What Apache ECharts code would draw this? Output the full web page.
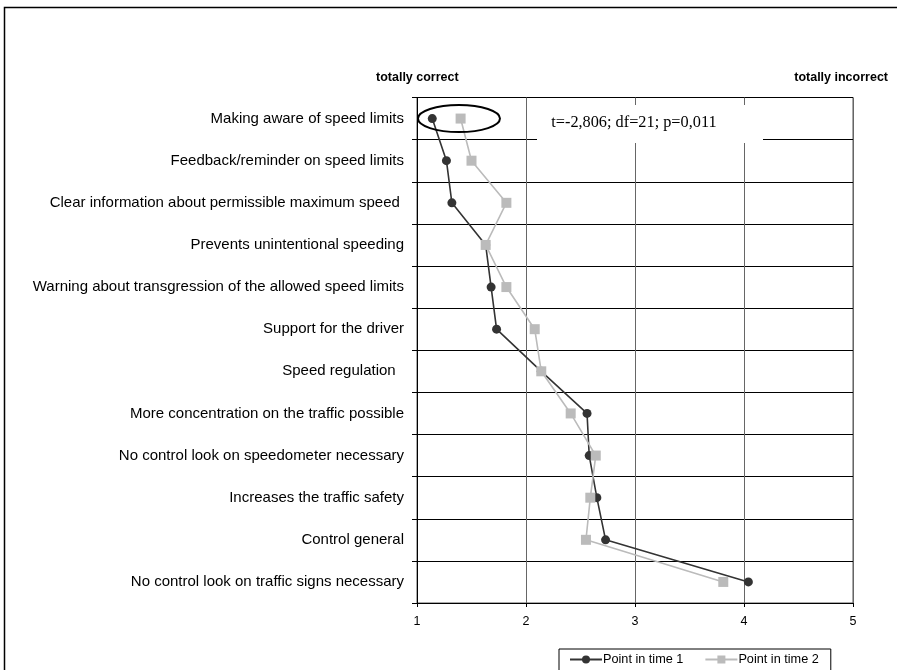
<!DOCTYPE html>
<html>
<head>
<meta charset="utf-8">
<script src="https://cdn.jsdelivr.net/npm/echarts@6/dist/echarts.min.js"></script>
<style>
html,body{margin:0;padding:0;background:#fff;}
#c{width:897px;height:670px;}
</style>
</head>
<body>
<div id="c"></div>
<script>
const categories = [
  "Making aware of speed limits",
  "Feedback/reminder on speed limits",
  "Clear information about permissible maximum speed ",
  "Prevents unintentional speeding",
  "Warning about transgression of the allowed speed limits",
  "Support for the driver",
  "Speed regulation  ",
  "More concentration on the traffic possible",
  "No control look on speedometer necessary",
  "Increases the traffic safety",
  "Control general",
  "No control look on traffic signs necessary"
];
const seriesNames = ["Point in time 1", "Point in time 2"];
const time1 = [1.14, 1.27, 1.32, 1.63, 1.68, 1.73, 2.14, 2.56, 2.58, 2.65, 2.73, 4.04];
const time2 = [1.40, 1.50, 1.82, 1.63, 1.82, 2.08, 2.14, 2.41, 2.64, 2.59, 2.55, 3.81];
const xTicks = [1, 2, 3, 4, 5];
const statText = "t=-2,806; df=21; p=0,011";
const leftAnnot = "totally correct";
const rightAnnot = "totally incorrect";

const FONT = "Liberation Sans, Arial, sans-serif";
const chart = echarts.init(document.getElementById('c'), null, {renderer: 'canvas'});

const baseGraphic = [
  {type: 'rect', left: 2, top: 5, shape: {width: 1000, height: 1000}, style: {fill: 'none', stroke: '#000', lineWidth: 1.5}, z: 0, silent: true},
  {type: 'text', left: 376, top: 71, style: {text: leftAnnot, font: 'bold 12.5px ' + FONT, fill: '#000'}},
  {type: 'text', right: 9, top: 71, style: {text: rightAnnot, font: 'bold 12.5px ' + FONT, fill: '#000'}}
];

const option = {
  backgroundColor: '#fff',
  animation: false,
  grid: {
    left: 417, right: 44, top: 97.5, bottom: 67,
    show: true, borderColor: '#555', borderWidth: 1, backgroundColor: 'transparent'
  },
  xAxis: {
    type: 'value',
    min: xTicks[0], max: xTicks[xTicks.length - 1], interval: 1,
    axisLine: {show: true, onZero: false, lineStyle: {color: '#000', width: 1}},
    axisTick: {show: true, length: 4, lineStyle: {color: '#000'}},
    axisLabel: {color: '#000', fontFamily: FONT, fontSize: 12.5, margin: 12},
    splitLine: {show: true, lineStyle: {color: '#666', width: 1}}
  },
  yAxis: {
    type: 'category',
    data: categories,
    inverse: true,
    boundaryGap: true,
    axisLine: {show: true, lineStyle: {color: '#000', width: 1}},
    axisTick: {show: true, length: 5, inside: false, lineStyle: {color: '#000'}},
    axisLabel: {color: '#000', fontFamily: FONT, fontSize: 15, margin: 13, interval: 0},
    splitLine: {show: true, interval: 0, lineStyle: {color: '#000', width: 1}}
  },
  legend: {
    left: 559, top: 649,
    borderColor: '#000', borderWidth: 1, borderRadius: 0,
    padding: [4, 12, 8, 10],
    itemWidth: 32, itemHeight: 10, itemGap: 21,
    textStyle: {fontFamily: FONT, fontSize: 12.7, color: '#000', padding: [0,0,0,-4]},
    data: seriesNames
  },
  series: [
    {
      name: seriesNames[0], type: 'line', data: time1.map((v, i) => [v, categories[i]]),
      symbol: 'circle', symbolSize: 9,
      lineStyle: {color: '#333', width: 1.6},
      itemStyle: {color: '#333'},
      z: 3
    },
    {
      name: seriesNames[1], type: 'line', data: time2.map((v, i) => [v, categories[i]]),
      symbol: 'rect', symbolSize: 10,
      lineStyle: {color: '#bbb', width: 1.6},
      itemStyle: {color: '#bbb'},
      z: 4
    }
  ],
  graphic: baseGraphic
};
chart.setOption(option);

// annotation box and ellipse positioned via the axes
const c0 = chart.convertToPixel({gridIndex: 0}, [1.385, categories[0]]);
const c1 = chart.convertToPixel({gridIndex: 0}, [2.99, categories[0]]);
chart.setOption({
  graphic: baseGraphic.concat([
    {type: 'rect', shape: {x: 537, y: 105, width: 226, height: 38}, style: {fill: '#fff'}, z: 10},
    {type: 'text', x: c1[0], y: c1[1] + 4, style: {text: statText, font: '16.3px Liberation Serif, Times New Roman, serif', fill: '#000', align: 'center', verticalAlign: 'middle'}, z: 11},
    {type: 'ellipse', shape: {cx: c0[0], cy: c0[1], rx: 41, ry: 13.5}, style: {fill: 'none', stroke: '#000', lineWidth: 2}, z: 12}
  ])
}, {replaceMerge: ['graphic']});
</script>
</body>
</html>
